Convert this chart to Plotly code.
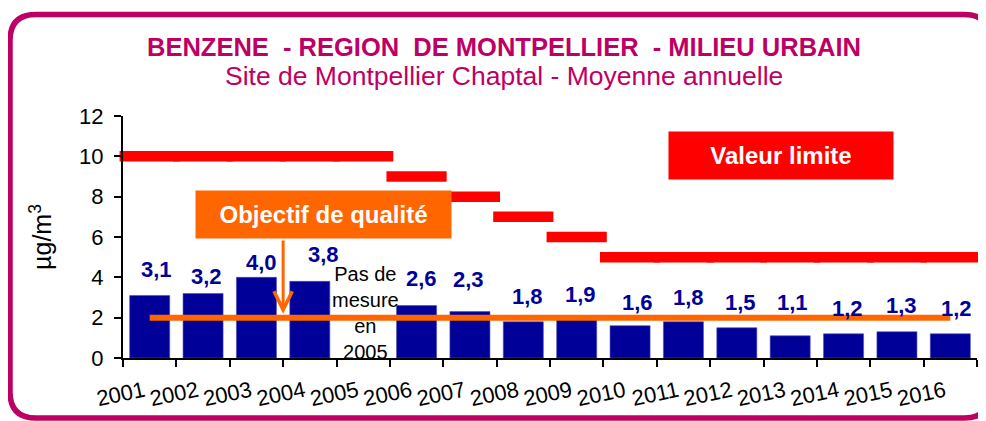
import plotly.graph_objects as go

# ---------------- data ----------------
years = ['2001', '2002', '2003', '2004', '2005', '2006', '2007', '2008',
         '2009', '2010', '2011', '2012', '2013', '2014', '2015', '2016']
benzene = [3.1, 3.2, 4.0, 3.8, None, 2.6, 2.3, 1.8, 1.9, 1.6, 1.8, 1.5, 1.1, 1.2, 1.3, 1.2]
valeur_limite = [10, 10, 10, 10, 10, 9, 8, 7, 6, 5, 5, 5, 5, 5, 5, 5]
objectif_qualite = [2, 2, 2, 2, 2, 2, 2, 2, 2, 2, 2, 2, 2, 2, 2, 2]
y_ticks = [0, 2, 4, 6, 8, 10, 12]

# label nudges (pixels) to mimic the manual placement of the original labels
label_dx = [7, 3, 5, 14, 0, 5, -1, 4, 4, 7, 5, 4, 2, 4, 5, 6]
label_dy = [26, 17, 15, 27, 0, 27, 32, 25, 25, 23, 24, 25, 33, 25, 26, 25]

FONT = "Liberation Sans, Arial, sans-serif"
MAGENTA = "#BE0064"
BLUE = "#000099"
RED = "#FF0000"
ORANGE = "#FF6600"

# the page body has an 8px margin: figure is sized so that it fills the window
OFF = 8
PAGE_W, PAGE_H = 986, 421
W, H = PAGE_W - OFF, PAGE_H - OFF
L, R, T, B = 123, 977, 116, 358   # plot-area box in page pixels

n = len(years)
centers = [i + 0.5 for i in range(n)]

fig = go.Figure()

fig.add_trace(go.Bar(
    x=centers, y=benzene, width=0.75,
    marker=dict(color=BLUE, line=dict(color="#4a4ab8", width=0.6)),
    hoverinfo="skip", showlegend=False,
))

fig.add_trace(go.Scatter(
    x=centers, y=valeur_limite, mode="markers", cliponaxis=False,
    marker=dict(symbol="line-ew", size=43, line=dict(color=RED, width=10.5)),
    hoverinfo="skip", showlegend=False,
))

fig.add_trace(go.Scatter(
    x=centers, y=objectif_qualite, mode="lines", cliponaxis=False,
    line=dict(color=ORANGE, width=6),
    hoverinfo="skip", showlegend=False,
))

annotations = []
for c, v, dx, dy in zip(centers, benzene, label_dx, label_dy):
    if v is None:
        continue
    annotations.append(dict(
        x=c, y=v, xref="x", yref="y", text=f"{v:.1f}".replace(".", ","),
        showarrow=False, xshift=dx, yshift=dy, yanchor="middle",
        font=dict(family=FONT, size=22, color=BLUE, weight="bold"),
    ))


def px2paper(px, py):
    return (px - L) / (R - L), (B - py) / (B - T)


# Title / subtitle
tx, ty = px2paper(504, 47)
annotations.append(dict(
    x=tx, y=ty, xref="paper", yref="paper", showarrow=False,
    text="BENZENE \u00a0- REGION \u00a0DE MONTPELLIER \u00a0- MILIEU URBAIN",
    font=dict(family=FONT, size=25.5, color=MAGENTA, weight="bold"),
    xanchor="center", yanchor="middle",
))
sx, sy = px2paper(504, 76)
annotations.append(dict(
    x=sx, y=sy, xref="paper", yref="paper", showarrow=False,
    text="Site de Montpellier Chaptal - Moyenne annuelle",
    font=dict(family=FONT, size=26.5, color=MAGENTA),
    xanchor="center", yanchor="middle",
))

# Valeur limite box
annotations.append(dict(
    x=12.32, y=10.04, xref="x", yref="y", showarrow=False,
    text="Valeur limite", bgcolor=RED, width=224, height=47, borderpad=0,
    font=dict(family=FONT, size=24, color="white", weight="bold"),
))
# Objectif de qualité box
annotations.append(dict(
    x=3.76, y=7.14, xref="x", yref="y", showarrow=False,
    text="Objectif de qualité", bgcolor=ORANGE, width=255, height=47, borderpad=0,
    font=dict(family=FONT, size=24, color="white", weight="bold"),
))
# arrow from the box down to the objective line
annotations.append(dict(
    x=3, y=2.2, xref="x", yref="y", ax=3, ay=5.9, axref="x", ayref="y",
    text="", showarrow=True, arrowhead=5, arrowsize=1.2, arrowwidth=3,
    arrowcolor=ORANGE,
))
# no measurement note
annotations.append(dict(
    x=4.55, y=2.23, xref="x", yref="y", showarrow=False,
    text="Pas de<br>mesure<br>en<br>2005", align="center",
    font=dict(family=FONT, size=20, color="black"),
))

# rounded frame (page pixels)
x0, y0, x1, y1, r = 10, 14.5, 990, 418, 26


def P(px, py):
    a, b = px2paper(px, py)
    return f"{a:.5f},{b:.5f}"


path = (f"M {P(x0 + r, y0)} L {P(x1 - r, y0)} Q {P(x1, y0)} {P(x1, y0 + r)} "
        f"L {P(x1, y1 - r)} Q {P(x1, y1)} {P(x1 - r, y1)} "
        f"L {P(x0 + r, y1)} Q {P(x0, y1)} {P(x0, y1 - r)} "
        f"L {P(x0, y0 + r)} Q {P(x0, y0)} {P(x0 + r, y0)} Z")

fig.update_layout(
    width=W, height=H,
    margin=dict(l=L - OFF, r=W - (R - OFF), t=T - OFF, b=H - (B - OFF), pad=0),
    paper_bgcolor="white", plot_bgcolor="white",
    font=dict(family=FONT, size=21, color="black"),
    annotations=annotations,
    shapes=[dict(type="path", xref="paper", yref="paper", path=path,
                 line=dict(color=MAGENTA, width=5.5))],
    xaxis=dict(
        range=[0, n], tickmode="array",
        tickvals=list(range(n + 1)), ticktext=years + [""],
        tickangle=-12, showgrid=False, zeroline=False,
        showline=True, linecolor="black", linewidth=2,
        ticks="outside", ticklen=7, tickwidth=2, tickcolor="black",
        tickfont=dict(family=FONT, size=22, color="black"),
        ticklabelshift=21, ticklabelstandoff=3,
    ),
    yaxis=dict(
        range=[0, 12], tickmode="array", tickvals=y_ticks,
        showgrid=False, zeroline=False,
        showline=True, linecolor="black", linewidth=2,
        ticks="outside", ticklen=7, tickwidth=2, tickcolor="black",
        tickfont=dict(family=FONT, size=22, color="black"),
        ticklabelstandoff=6,
        title=dict(text="µg/m<sup>3</sup>", standoff=20,
                   font=dict(family=FONT, size=25, color="black")),
    ),
)

fig.write_html("out.html")
